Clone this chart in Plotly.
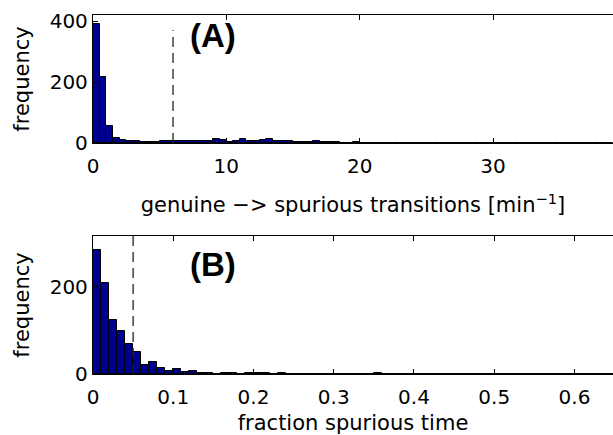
import numpy as np
import plotly.graph_objects as go
from plotly.subplots import make_subplots

# ---- data ----
# Panel A: genuine -> spurious transitions, bins of 0.5 starting at 0
a_bin_start = 0.0
a_bin_width = 0.5
a_counts = [390, 215, 57, 17, 11, 7, 8, 4, 2, 4,
            7, 5, 8, 8, 7, 7, 5, 7, 13, 11,
            4, 8, 14, 8, 8, 10, 13, 7, 6, 6,
            2, 4, 4, 6, 4, 3, 2, 1, 1, 2,
            1, 1, 0, 1, 1, 1, 0, 1, 1, 0,
            1, 0, 1, 0, 0, 1, 0, 0, 1, 0,
            0, 0, 1, 0, 0, 0, 0, 1, 0, 0,
            0, 0, 0, 0, 0, 0, 0, 0]
a_threshold = 6.0
a_xticks = [0, 10, 20, 30]
a_yticks = [0, 200, 400]

# Panel B: fraction spurious time, bins of 0.01 starting at 0
b_bin_start = 0.0
b_bin_width = 0.01
b_counts = [284, 210, 125, 98, 70, 51, 20, 27, 14, 6,
            11, 5, 8, 2, 2, 1, 2, 3, 1, 2,
            3, 2, 1, 2, 1, 1, 0, 1, 1, 0,
            1, 1, 0, 0, 1, 2, 1, 1, 0, 0,
            0, 1, 0, 1, 1, 0, 0, 0, 0, 0,
            1, 0, 0, 0, 0, 0, 1, 0, 0, 0,
            0, 0, 0, 0, 0]
b_threshold = 0.05
b_xticks = [0, 0.1, 0.2, 0.3, 0.4, 0.5, 0.6]
b_xticklabels = ["0", "0.1", "0.2", "0.3", "0.4", "0.5", "0.6"]
b_yticks = [0, 200]

BAR_COLOR = "#00008F"
FONT = "DejaVu Sans, Liberation Sans, Arial, sans-serif"
BOLD_FONT = "Liberation Sans, Arial, Helvetica, sans-serif"

a_x = a_bin_start + a_bin_width * (np.arange(len(a_counts)) + 0.5)
b_x = b_bin_start + b_bin_width * (np.arange(len(b_counts)) + 0.5)

fig = make_subplots(rows=2, cols=1)

fig.add_trace(go.Bar(x=a_x, y=a_counts, width=a_bin_width,
                     marker=dict(color=BAR_COLOR, line=dict(color="black", width=1)),
                     showlegend=False), row=1, col=1)
fig.add_trace(go.Bar(x=b_x, y=b_counts, width=b_bin_width,
                     marker=dict(color=BAR_COLOR, line=dict(color="black", width=1)),
                     showlegend=False), row=2, col=1)

# dashed threshold lines
fig.add_trace(go.Scatter(x=[a_threshold, a_threshold], y=[0, 370], mode="lines",
                         line=dict(color="#222222", width=1.3, dash="10px,6px"),
                         showlegend=False, hoverinfo="skip"), row=1, col=1)
fig.add_trace(go.Scatter(x=[b_threshold, b_threshold], y=[0, 317], mode="lines",
                         line=dict(color="#222222", width=1.3, dash="10px,6px"),
                         showlegend=False, hoverinfo="skip"), row=2, col=1)

axis_common = dict(showline=True, linecolor="black", linewidth=1.3,
                   ticks="inside", ticklen=5, tickwidth=1, tickcolor="black",
                   showgrid=False, zeroline=False,
                   tickfont=dict(family=FONT, size=20, color="black"))

fig.update_xaxes(**axis_common, mirror="ticks", ticklabelstandoff=5)
fig.update_yaxes(**axis_common, mirror=False)

TITLE_FONT = dict(family=FONT, size=21, color="black")

fig.update_xaxes(range=[0, 39], tickvals=a_xticks, domain=[0, 1],
                 title=dict(text="genuine −> spurious transitions [min<sup>−1</sup>]",
                            font=TITLE_FONT, standoff=20),
                 row=1, col=1)
fig.update_xaxes(range=[0, 0.648], tickvals=b_xticks, ticktext=b_xticklabels,
                 title=dict(text="fraction spurious time", font=TITLE_FONT, standoff=12),
                 row=2, col=1)
fig.update_yaxes(range=[0, 420], tickvals=a_yticks, domain=[0.6435, 1.0],
                 title=dict(text="frequency", font=TITLE_FONT, standoff=14),
                 row=1, col=1)
fig.update_yaxes(range=[0, 317], tickvals=b_yticks, domain=[0.0, 0.3844],
                 title=dict(text="frequency", font=TITLE_FONT, standoff=14),
                 row=2, col=1)

fig.add_annotation(text="<b>(A)</b>", x=7.1, y=0.84, xref="x", yref="y domain",
                   xanchor="left", yanchor="middle", showarrow=False,
                   font=dict(family=BOLD_FONT, size=33, color="black"))
fig.add_annotation(text="<b>(B)</b>", x=0.119, y=0.79, xref="x2", yref="y2 domain",
                   xanchor="left", yanchor="middle", showarrow=False,
                   font=dict(family=BOLD_FONT, size=33, color="black"))

fig.update_layout(width=613, height=435,
                  margin=dict(l=93, r=0, t=15, b=61),
                  paper_bgcolor="white", plot_bgcolor="white",
                  bargap=0, showlegend=False,
                  font=dict(family=FONT, color="black"))

fig.write_html("out.html")
